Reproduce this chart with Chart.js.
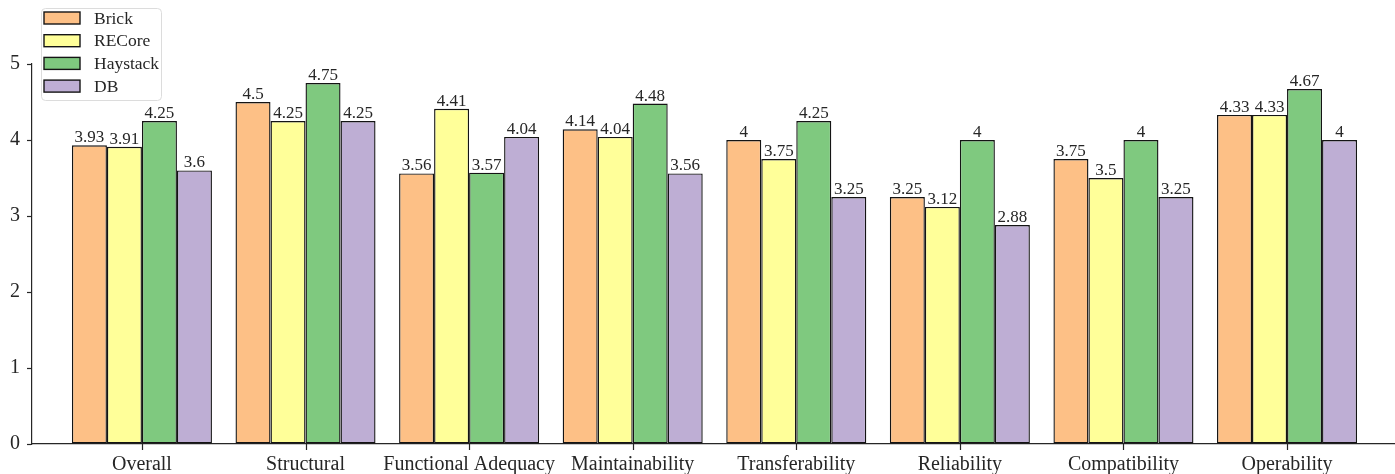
<!DOCTYPE html>
<html>
<head>
<meta charset="utf-8">
<script src="https://cdn.jsdelivr.net/npm/chart.js@4.4.1/dist/chart.umd.min.js"></script>
<style>
  html, body { margin: 0; padding: 0; background: #fff; }
  #wrap { width: 1395px; height: 474px; position: relative; }
</style>
</head>
<body>
<div id="wrap"><canvas id="scores"></canvas></div>
<script>
// chart data
var categories = ['Overall', 'Structural', 'Functional Adequacy', 'Maintainability',
                  'Transferability', 'Reliability', 'Compatibility', 'Operability'];
var brick    = [3.93, 4.5, 3.56, 4.14, 4, 3.25, 3.75, 4.33];
var recore   = [3.91, 4.25, 4.41, 4.04, 3.75, 3.12, 3.5, 4.33];
var haystack = [4.25, 4.75, 3.57, 4.48, 4.25, 4, 4, 4.67];
var db       = [3.6, 4.25, 4.04, 3.56, 3.25, 2.88, 3.25, 4];
var seriesNames = ['Brick', 'RECore', 'Haystack', 'DB'];
var yTicks = [0, 1, 2, 3, 4, 5];

var INK = '#262626';
var SERIF = '"Liberation Serif", "DejaVu Serif", serif';
var colors = ['#fdc086', '#ffff99', '#7fc97f', '#beaed4'];

function toPoints(arr) {
    return arr.map(function (v, i) { return { x: i, y: v }; });
}

var datasets = [brick, recore, haystack, db].map(function (arr, k) {
    return {
        label: seriesNames[k],
        data: toPoints(arr),
        backgroundColor: colors[k],
        borderColor: '#141414',
        borderWidth: 1.4,
        borderSkipped: false,
        categoryPercentage: 0.856,
        barPercentage: 1.0
    };
});

// value labels above each bar, plus the x tick marks at the group centres
var barLabels = {
    id: 'barLabels',
    afterDatasetsDraw: function (chart) {
        var ctx = chart.ctx;
        var xs = chart.scales.x;
        ctx.save();
        ctx.strokeStyle = INK;
        ctx.lineWidth = 1.2;
        categories.forEach(function (c, i) {
            var px = Math.round(xs.getPixelForValue(i)) + 0.5;
            ctx.beginPath();
            ctx.moveTo(px, xs.top);
            ctx.lineTo(px, xs.top + 6);
            ctx.stroke();
        });
        ctx.font = '17px ' + SERIF;
        ctx.fillStyle = INK;
        ctx.textAlign = 'center';
        ctx.textBaseline = 'alphabetic';
        chart.data.datasets.forEach(function (ds, di) {
            var meta = chart.getDatasetMeta(di);
            meta.data.forEach(function (bar, i) {
                ctx.fillText(String(ds.data[i].y), bar.x, bar.y - 3);
            });
        });
        ctx.restore();
    }
};

// matplotlib-like legend box in the upper left
var boxLegend = {
    id: 'boxLegend',
    afterDraw: function (chart) {
        var ctx = chart.ctx;
        var x0 = 41, y0 = 8, w = 120, h = 92;
        ctx.save();
        ctx.beginPath();
        ctx.roundRect(x0 + 0.5, y0 + 0.5, w, h, 4);
        ctx.fillStyle = 'rgba(255,255,255,0.8)';
        ctx.fill();
        ctx.strokeStyle = '#dcdcdc';
        ctx.lineWidth = 1;
        ctx.stroke();
        ctx.font = '17.5px ' + SERIF;
        ctx.textBaseline = 'middle';
        ctx.textAlign = 'left';
        chart.data.datasets.forEach(function (ds, i) {
            var py = 12 + i * 22.7;
            ctx.fillStyle = ds.backgroundColor;
            ctx.fillRect(44, py, 36, 12);
            ctx.strokeStyle = '#141414';
            ctx.lineWidth = 1.4;
            ctx.strokeRect(44, py, 36, 12);
            ctx.fillStyle = INK;
            ctx.fillText(ds.label, 94, py + 7);
        });
        ctx.restore();
    }
};

new Chart(document.getElementById('scores'), {
    type: 'bar',
    data: { datasets: datasets },
    options: {
        responsive: true,
        maintainAspectRatio: false,
        animation: false,
        layout: { padding: { top: 64, left: 0, right: 0, bottom: 0 } },
        plugins: {
            legend: { display: false },
            tooltip: { enabled: false }
        },
        scales: {
            x: {
                type: 'linear',
                min: -0.672,
                max: 7.66,
                offset: false,
                afterBuildTicks: function (scale) {
                    scale.ticks = categories.map(function (c, i) { return { value: i }; });
                },
                afterFit: function (scale) { scale.height = 30; },
                grid: { display: false, drawTicks: false },
                border: { display: true, color: INK, width: 1.2 },
                ticks: {
                    autoSkip: false,
                    maxRotation: 0,
                    padding: 9,
                    color: INK,
                    font: { family: SERIF, size: 20 },
                    callback: function (v) { return categories[v]; }
                }
            },
            y: {
                min: 0,
                max: 5,
                afterBuildTicks: function (scale) {
                    scale.ticks = yTicks.map(function (v) { return { value: v }; });
                },
                afterFit: function (scale) { scale.width = 32; },
                grid: { drawOnChartArea: false, drawTicks: true, tickLength: 5, tickColor: INK, tickWidth: 1.2 },
                border: { display: true, color: INK, width: 1.2 },
                ticks: {
                    padding: 7,
                    color: INK,
                    font: { family: SERIF, size: 20 }
                }
            }
        }
    },
    plugins: [barLabels, boxLegend]
});
</script>
</body>
</html>
